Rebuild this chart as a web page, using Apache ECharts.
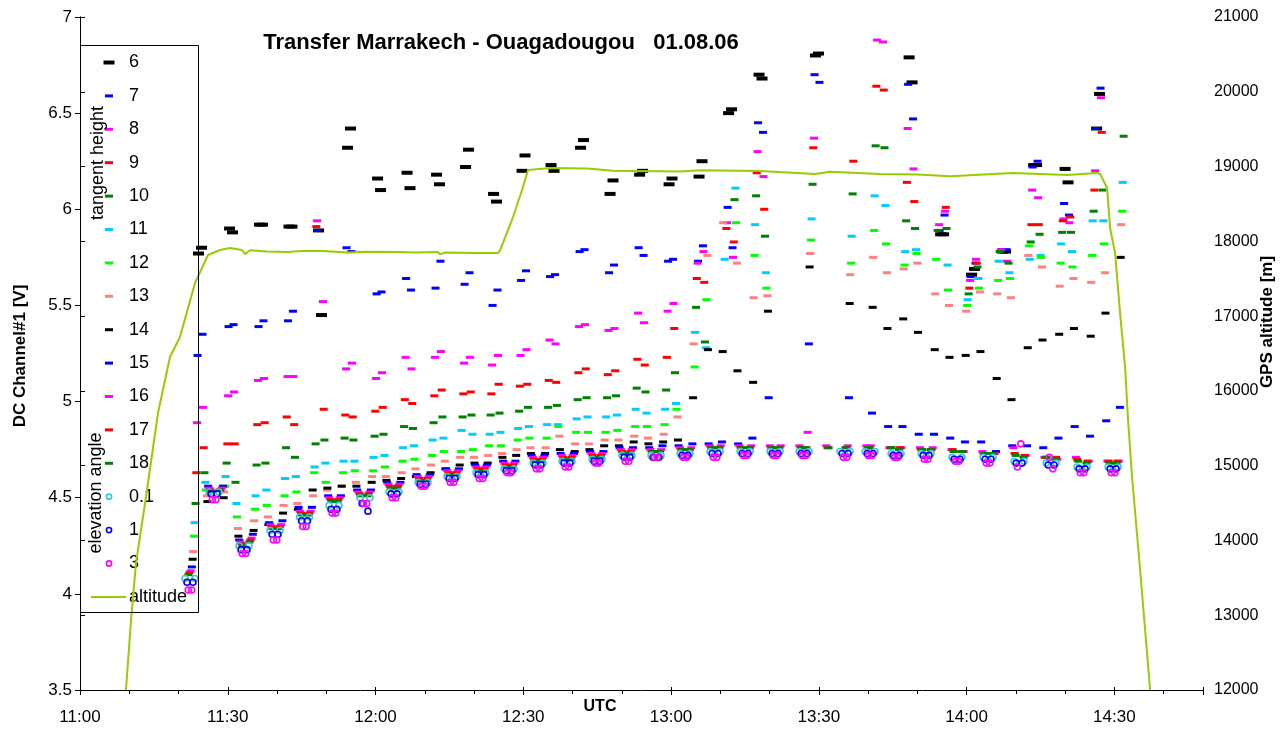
<!DOCTYPE html>
<html>
<head>
<meta charset="utf-8">
<script src="https://cdn.jsdelivr.net/npm/echarts@6.0.0/dist/echarts.min.js"></script>
<style>
  html, body { margin: 0; padding: 0; background: #ffffff; }
  #chart { width: 1282px; height: 729px; }
</style>
</head>
<body>
<div id="chart"></div>
<script>
// ---------------------------------------------------------------------------
// Limb sounding on the transfer flight Marrakech - Ouagadougou, 01.08.06
// Each scan runs tangent heights 6..18 down to the elevation-angle views and
// back up again, so every turning point carries a pair of readings per height:
// [end of previous scan, start of next scan]. A single number stands for both.
// ---------------------------------------------------------------------------

// UTC of the turning points between consecutive scans
const sweepTurns = [
  '11:24:22', '11:30:40', '11:36:45', '11:42:44', '11:48:44', '11:54:37', '12:00:43', '12:06:42',
  '12:12:41', '12:18:35', '12:24:16', '12:30:03', '12:35:56', '12:41:56', '12:47:55', '12:53:55',
  '12:59:54', '13:05:59', '13:11:59', '13:18:10', '13:24:10', '13:29:38', '13:37:46', '13:42:26',
  '13:48:38', '13:55:02', '14:01:19', '14:07:37', '14:13:55', '14:20:18', '14:26:42', '14:32:47'
];

// UTC of the scan centres (elevation-angle views)
const scanCentres = [
  '11:22:20', '11:27:13', '11:33:18', '11:39:36', '11:45:35', '11:51:34', '11:57:52', '12:03:46',
  '12:09:39', '12:15:32', '12:21:25', '12:27:07', '12:33:00', '12:38:53', '12:44:58', '12:51:04',
  '12:56:57', '13:02:50', '13:08:56', '13:15:02', '13:21:07', '13:27:01', '13:35:20', '13:40:25',
  '13:45:41', '13:51:47', '13:58:04', '14:04:22', '14:10:40', '14:17:10', '14:23:27', '14:29:45'
];

// DC channel #1 [V] per tangent height (km)
const th6 = [[5.77,5.80],[5.90,5.88],5.92,5.91,[5.89,5.45],[6.32,6.42],[6.16,6.10],[6.19,6.11],
  [6.18,6.13],[6.22,6.31],[6.08,6.04],[6.20,6.28],[6.23,6.20],[6.32,6.36],[6.08,6.15],[6.18,6.20],
  [6.13,6.16],[6.17,6.25],[6.50,6.52],[6.70,6.68],null,[6.80,6.81],null,null,
  [6.79,6.66],5.87,[5.66,5.69],5.78,6.23,[6.21,6.14],[6.42,6.60],null];
const th7 = [[5.24,5.35],[5.39,5.40],[5.39,5.42],[5.42,5.47],[5.89,null],[5.80,5.78],[5.56,5.57],[5.64,5.58],
  [5.59,5.73],[5.61,5.67],[5.50,5.58],[5.63,5.68],[5.65,5.66],[5.78,5.79],[5.67,5.71],[5.80,5.76],
  [5.73,5.74],[5.73,5.81],[6.01,5.80],[6.45,6.40],null,[6.70,6.66],null,null,
  [6.65,6.47],[5.89,5.97],[5.65,5.72],5.79,[6.22,6.25],[6.03,5.97],[6.42,6.63],null];
const th8 = [[4.89,4.97],[5.03,5.05],[5.11,5.12],5.13,[5.94,5.52],[5.17,5.20],[5.12,5.15],[5.23,5.17],
  [5.23,5.26],[5.20,5.23],[5.19,5.24],[5.24,5.27],[5.32,5.30],[5.39,5.40],[5.37,5.38],[5.46,5.41],
  [5.47,5.51],[5.72,5.78],[5.93,5.75],[6.30,6.17],null,[6.37,null],null,[6.88,6.87],
  [6.42,6.21],[5.92,5.99],[5.63,5.74],[5.79,5.73],[6.10,6.06],[5.95,5.93],[6.20,6.58],null];
const th9 = [[4.63,4.76],4.78,[4.88,4.89],[4.92,4.88],[5.91,4.96],[4.93,4.92],[4.95,4.97],[5.01,4.99],
  [5.03,5.06],[5.04,5.05],[5.04,5.09],[5.08,5.09],[5.11,5.10],[5.15,5.17],[5.14,5.16],[5.22,5.19],
  [5.23,5.38],[5.64,5.62],[5.90,5.83],[6.19,6.00],null,[6.32,null],[6.25,null],[6.64,6.62],
  [6.14,6.04],[null,6.01],[5.59,5.72],null,5.92,[5.94,5.96],[6.10,6.40],null];
const th10 = [[4.47,4.63],[4.68,4.58],[4.67,4.68],[4.76,4.71],[4.78,4.80],[4.81,4.80],[4.82,4.83],[4.87,4.86],
  [4.89,4.92],[4.92,4.93],[4.93,4.94],[4.95,4.97],[4.97,4.98],[5.01,5.02],[5.02,5.03],[5.07,5.05],
  [5.06,5.15],[5.49,5.31],[null,6.05],[6.07,5.86],null,[6.13,null],[6.08,null],[6.33,6.32],
  [5.94,5.90],[5.89,5.90],[5.56,5.70],[5.78,5.72],[5.83,5.87],5.88,[5.99,6.10],[6.38,null]];
const th11 = [[4.37,4.58],[4.61,4.47],[4.51,4.54],[4.60,4.61],[4.66,4.68],4.69,[4.71,4.72],[4.76,4.77],
  [4.80,4.81],[4.85,4.83],[4.83,4.84],[4.86,4.87],4.88,[4.91,4.92],[4.92,4.93],[4.96,4.94],
  [4.96,4.99],[5.36,5.28],[5.74,6.11],[5.92,5.67],null,[5.95,null],[5.86,null],[6.07,6.02],
  [5.78,5.79],[null,5.71],[5.53,5.64],[5.73,5.67],[5.74,5.76],[5.82,5.78],5.94,[6.14,null]];
const th12 = [[4.30,4.54],[4.56,4.40],[4.44,4.46],[4.51,4.53],[4.63,4.58],[4.63,4.64],[4.64,4.66],[4.69,4.70],
  [4.72,4.74],[4.74,4.75],4.77,[4.80,4.81],[4.81,4.87],4.84,[4.84,4.85],4.87,
  [4.88,4.96],[5.18,5.53],[null,5.93],[5.76,5.59],null,[5.84,null],[5.72,null],[5.89,5.82],
  [5.71,5.77],[5.74,5.58],[5.50,5.59],[5.63,5.64],[5.81,5.75],[5.72,5.70],[5.76,5.82],[5.99,null]];
const th13 = [[4.22,4.51],[4.53,4.34],[4.38,4.40],[4.46,4.47],[4.51,4.54],[4.56,4.58],4.61,[4.63,4.65],
  [4.67,4.69],4.71,[4.72,4.73],[4.75,4.76],[4.76,4.82],4.78,4.80,[4.82,4.81],
  [4.83,4.92],[5.30,5.76],[5.93,5.72],[5.54,5.55],null,[5.77,null],[5.66,null],[5.75,5.67],
  [5.69,5.72],[5.56,5.50],[5.47,5.57],[5.56,5.54],[5.76,5.70],[5.60,5.64],[5.62,5.67],[5.92,null]];
const th14 = [[4.18,4.48],[4.50,4.30],[4.33,4.36],[4.42,4.44],[4.54,4.55],4.56,[4.58,4.59],[4.60,4.61],
  [4.63,4.65],[4.67,4.68],[4.68,4.71],[4.72,4.73],[4.73,4.75],[4.74,4.75],4.77,[4.79,4.78],
  [4.79,4.80],[5.02,5.27],[5.26,5.16],[5.10,5.47],null,[5.70,null],[5.51,null],[5.49,5.38],
  [5.43,5.36],[5.27,5.23],[5.24,5.26],[5.12,5.01],[5.28,5.32],[5.35,5.38],[5.34,5.46],[5.75,null]];
const th15 = [[4.14,4.56],[4.56,4.28],[4.31,4.37],[4.38,4.45],[4.45,4.51],[4.51,4.54],[4.54,4.58],[4.58,4.62],
  [4.62,4.65],[4.65,4.67],[4.67,4.69],[4.69,4.72],[4.72,4.73],[4.73,4.74],[4.74,4.76],4.76,
  4.77,4.78,[4.79,4.78],[4.81,5.02],null,[5.30,null],[5.02,null],[4.94,4.87],
  [4.87,4.83],[4.83,4.81],4.79,[4.74,4.77],[4.77,4.76],[4.81,4.87],[4.82,4.90],[4.97,null]];
const th16 = [[4.12,4.55],[4.55,4.27],[4.29,4.36],[4.36,4.43],[4.43,4.50],[4.50,4.53],[4.53,4.57],[4.57,4.61],
  [4.61,4.64],[4.64,4.66],[4.66,4.68],[4.68,4.71],[4.71,4.72],[4.72,4.73],[4.73,4.75],4.75,
  [4.75,4.76],[4.76,4.77],4.77,4.77,4.77,[4.84,4.77],4.77,[4.77,4.76],
  4.76,[4.76,4.75],4.74,[4.73,4.76],[4.72,4.71],[4.70,4.71],4.69,[4.69,null]];
const th17 = [[4.11,4.54],[4.54,4.26],[4.28,4.35],[4.35,4.42],[4.42,4.49],[4.49,4.52],[4.52,4.56],[4.56,4.60],
  [4.60,4.63],[4.63,4.65],[4.65,4.67],[4.67,4.70],[4.70,4.71],[4.71,4.72],[4.72,4.74],4.74,
  [4.74,4.75],[4.75,4.76],4.76,4.76,4.76,4.76,4.76,4.76,
  [4.76,4.75],4.75,[4.74,4.73],4.73,[4.72,4.71],[4.71,4.70],4.69,[4.69,null]];
const th18 = [[4.10,4.53],[4.54,4.25],[4.27,4.34],[4.34,4.41],[4.41,4.48],[4.48,4.51],[4.51,4.55],[4.55,4.59],
  [4.59,4.62],[4.62,4.64],[4.64,4.66],[4.66,4.69],[4.69,4.70],[4.70,4.71],[4.71,4.73],[4.73,4.74],
  [4.74,4.75],[4.75,4.76],4.76,4.76,4.76,4.76,4.76,4.76,
  4.75,[4.75,4.74],[4.74,4.73],[4.73,4.72],4.71,[4.70,4.69],4.68,[4.68,null]];

// DC channel #1 [V] per elevation angle (deg), one entry per scan centre
const ang01 = [4.08,4.53,4.25,4.33,4.40,4.46,4.50,4.53,4.58,4.61,4.63,4.65,4.68,4.69,4.70,4.72,
  4.72,4.73,4.74,4.74,4.74,4.74,4.74,4.74,4.73,4.73,4.71,4.71,4.69,4.68,4.66,4.66];
const ang1 = [4.06,4.52,4.23,4.31,4.38,4.44,[4.47,4.43],4.52,4.57,4.60,4.62,4.64,4.67,4.68,4.69,4.71,
  4.71,4.72,4.73,4.73,4.73,4.73,4.73,4.73,4.72,4.72,4.70,4.70,4.68,4.67,4.65,4.65];
const ang3 = [4.02,4.49,4.21,4.28,4.35,4.42,4.47,4.50,4.56,4.58,4.60,4.63,4.65,4.66,4.68,4.69,
  4.71,4.71,4.71,4.72,4.72,4.72,4.71,4.72,4.71,4.70,4.69,4.68,[4.66,4.78],[4.71,4.65],4.63,4.63];

// GPS altitude [m]
const altTimes = ['11:09:20','11:10:22','11:11:22','11:13:24','11:15:50','11:18:16','11:20:18','11:23:21',
  '11:25:59','11:28:26','11:30:28','11:32:53','11:33:30','11:34:31','11:38:00','11:42:02','11:45:00',
  '11:49:20','11:54:13','11:58:00','12:04:58','12:08:00','12:12:41','12:13:06','12:14:07','12:20:00',
  '12:24:52','12:25:17','12:27:55','12:29:45','12:30:58','12:35:26','12:42:56','12:48:13','13:01:50',
  '13:05:53','13:18:04','13:29:14','13:32:17','13:42:26','13:50:00','13:56:39','14:09:26','14:20:25',
  '14:26:30','14:27:07','14:28:32','14:29:08','14:30:09','14:31:10','14:32:11','14:32:47','14:33:36',
  '14:35:14','14:37:16'];
const altValues = [12000,12936,13698,14581,15704,16453,16720,17443,
  17817,17884,17911,17884,17830,17880,17865,17857,17870,
  17870,17850,17862,17857,17850,17857,17825,17850,17845,
  17844,17880,18325,18686,18954,18980,18975,18945,18935,
  18950,18940,18900,18930,18900,18895,18870,18914,18887,
  18914,18900,18713,18178,17844,17041,16319,15611,14848,
  13605,12000];

// Tick labels
const leftTicks = [3.5, 4, 4.5, 5, 5.5, 6, 6.5, 7];
const rightTicks = [12000, 13000, 14000, 15000, 16000, 17000, 18000, 19000, 20000, 21000];

// ---------------------------------------------------------------------------
// Series definitions and styling
// ---------------------------------------------------------------------------
const heightSets = [
  { name: '6', values: th6 }, { name: '7', values: th7 }, { name: '8', values: th8 },
  { name: '9', values: th9 }, { name: '10', values: th10 }, { name: '11', values: th11 },
  { name: '12', values: th12 }, { name: '13', values: th13 }, { name: '14', values: th14 },
  { name: '15', values: th15 }, { name: '16', values: th16 }, { name: '17', values: th17 },
  { name: '18', values: th18 }
];
const angleSets = [
  { name: '0.1', values: ang01 }, { name: '1', values: ang1 }, { name: '3', values: ang3 }
];

// colour, marker size and time offset (minutes) from the turning point
const heightStyle = {
  '6':  { color: '#000000', size: [11, 4], shift: 0.30 },
  '7':  { color: '#0000ff', size: [8, 3],  shift: 0.50 },
  '8':  { color: '#ff00ff', size: [8, 3],  shift: 0.60 },
  '9':  { color: '#ff0000', size: [8, 3],  shift: 0.75 },
  '10': { color: '#008000', size: [8, 3],  shift: 0.90 },
  '11': { color: '#00ccff', size: [8, 3],  shift: 1.10 },
  '12': { color: '#00ff00', size: [8, 3],  shift: 1.20 },
  '13': { color: '#ff8080', size: [8, 3],  shift: 1.40 },
  '14': { color: '#000000', size: [8, 3],  shift: 1.50 },
  '15': { color: '#0000ff', size: [8, 3],  shift: 1.65 },
  '16': { color: '#ff00ff', size: [8, 3],  shift: 1.90 },
  '17': { color: '#ff0000', size: [8, 3],  shift: 2.15 },
  '18': { color: '#008000', size: [8, 3],  shift: 2.35 }
};
const angleStyle = {
  '0.1': { color: '#33cccc', shift: 1.0 },
  '1':   { color: '#0000ff', shift: 0.6 },
  '3':   { color: '#ff00ff', shift: 0.35 }
};
const altitudeColor = '#99cc00';
const FONT = 'Arial, "Liberation Sans", sans-serif';

// minutes after 11:00 UTC
function toMin(s) {
  const p = s.split(':').map(Number);
  return (p[0] - 11) * 60 + p[1] + (p[2] || 0) / 60;
}

// two readings around each reference time: [before, after]
function pairPoints(times, values, shift) {
  const pts = [];
  values.forEach((v, i) => {
    if (v === null) return;
    const pair = Array.isArray(v) ? v : [v, v];
    const t = toMin(times[i]);
    if (pair[0] !== null) pts.push([t - shift, pair[0]]);
    if (pair[1] !== null) pts.push([t + shift, pair[1]]);
  });
  return pts;
}

function clockLabel(v) {
  if (Math.abs(v % 30) > 1e-6) return '';
  const h = 11 + Math.floor(v / 60);
  const m = Math.round(v % 60);
  return h + ':' + String(m).padStart(2, '0');
}

const series = [];
heightSets.forEach(h => {
  const st = heightStyle[h.name];
  series.push({
    type: 'scatter', name: h.name, xAxisIndex: 0, yAxisIndex: 0,
    symbol: 'rect', symbolSize: st.size,
    itemStyle: { color: st.color, opacity: 1 },
    data: pairPoints(sweepTurns, h.values, st.shift),
    silent: true, animation: false
  });
});
angleSets.forEach(a => {
  const st = angleStyle[a.name];
  series.push({
    type: 'scatter', name: a.name, xAxisIndex: 0, yAxisIndex: 0,
    symbol: 'circle', symbolSize: 6,
    itemStyle: { color: 'rgba(255,255,255,0)', borderColor: st.color, borderWidth: 1.6, opacity: 1 },
    data: pairPoints(scanCentres, a.values, st.shift),
    silent: true, animation: false
  });
});
series.push({
  type: 'line', name: 'altitude', xAxisIndex: 0, yAxisIndex: 1,
  data: altTimes.map((t, i) => [toMin(t), altValues[i]]),
  showSymbol: false, symbol: 'none',
  lineStyle: { color: altitudeColor, width: 2 },
  clip: true, silent: true, animation: false, z: 3
});

// ---------------------------------------------------------------------------
// Legend (drawn as graphic elements over the left of the plot)
// ---------------------------------------------------------------------------
const legendItems = [];
const legX = 109, textX = 129, legTop = 62.5, legStep = 33.4;
const legendNames = heightSets.map(h => h.name).concat(angleSets.map(a => a.name), ['altitude']);
legendNames.forEach((name, k) => {
  const y = legTop + k * legStep;
  if (heightStyle[name] && k < heightSets.length) {
    const st = heightStyle[name];
    legendItems.push({
      type: 'rect', x: legX, y: y,
      shape: { x: -st.size[0] / 2, y: -st.size[1] / 2, width: st.size[0], height: st.size[1] },
      style: { fill: st.color }
    });
  } else if (name === 'altitude') {
    legendItems.push({
      type: 'line', shape: { x1: 91, y1: y, x2: 126, y2: y },
      style: { stroke: altitudeColor, lineWidth: 2 }
    });
  } else {
    legendItems.push({
      type: 'circle', x: legX, y: y, shape: { cx: 0, cy: 0, r: 2.6 },
      style: { fill: 'none', stroke: angleStyle[name].color, lineWidth: 1.6 }
    });
  }
  legendItems.push({
    type: 'text', x: textX, y: y,
    style: { text: name, font: '18px ' + FONT, fill: '#000', verticalAlign: 'middle', align: 'left' }
  });
});

const graphic = [
  { type: 'rect', shape: { x: 80.5, y: 45.5, width: 118, height: 567 },
    style: { fill: 'none', stroke: '#000', lineWidth: 1 }, z: 10 },
  { type: 'text', x: 98, y: 163, rotation: Math.PI / 2,
    style: { text: 'tangent height', font: '18px ' + FONT, fill: '#000', align: 'center', verticalAlign: 'middle' }, z: 10 },
  { type: 'text', x: 96, y: 493, rotation: Math.PI / 2,
    style: { text: 'elevation angle', font: '18px ' + FONT, fill: '#000', align: 'center', verticalAlign: 'middle' }, z: 10 },
  { type: 'group', children: legendItems, z: 10 },
  { type: 'text', x: 501, y: 43,
    style: { text: 'Transfer Marrakech - Ouagadougou   01.08.06', font: 'bold 22px ' + FONT, fill: '#000', align: 'center', verticalAlign: 'middle' }, z: 10 },
  { type: 'text', x: 20, y: 356, rotation: Math.PI / 2,
    style: { text: 'DC Channel#1 [V]', font: 'bold 17px ' + FONT, fill: '#000', align: 'center', verticalAlign: 'middle' }, z: 10 },
  { type: 'text', x: 1267, y: 322, rotation: Math.PI / 2,
    style: { text: 'GPS altitude [m]', font: 'bold 17px ' + FONT, fill: '#000', align: 'center', verticalAlign: 'middle' }, z: 10 },
  { type: 'text', x: 600, y: 707,
    style: { text: 'UTC', font: 'bold 16px ' + FONT, fill: '#000', align: 'center', verticalAlign: 'middle' }, z: 10 }
];

const axisLineStyle = { color: '#000', width: 1 };
const labelFont = { color: '#000', fontSize: 17, fontFamily: FONT };
const option = {
  backgroundColor: '#ffffff',
  animation: false,
  grid: { left: 80, right: 79, top: 17, bottom: 39, containLabel: false },
  xAxis: [
    {
      type: 'value', min: 0, max: 228, interval: 30,
      axisLine: { show: true, onZero: false, lineStyle: axisLineStyle },
      axisTick: { show: true, length: 5, lineStyle: axisLineStyle },
      minorTick: { show: true, splitNumber: 3, length: 4, lineStyle: axisLineStyle },
      axisLabel: Object.assign({ formatter: clockLabel, margin: 19 }, labelFont),
      splitLine: { show: false }
    },
    {
      type: 'value', min: 0, max: 228, interval: 30, position: 'bottom',
      axisLine: { show: false },
      axisTick: { show: true, inside: true, length: 3, lineStyle: axisLineStyle },
      axisLabel: { show: false },
      splitLine: { show: false }
    }
  ],
  yAxis: [
    {
      type: 'value', min: leftTicks[0], max: leftTicks[leftTicks.length - 1], interval: 0.5,
      axisLine: { show: true, lineStyle: axisLineStyle },
      axisTick: { show: true, length: 5, lineStyle: axisLineStyle },
      axisLabel: Object.assign({ margin: 8, formatter: v => String(v) }, labelFont),
      splitLine: { show: false }
    },
    {
      type: 'value', position: 'right', min: rightTicks[0], max: rightTicks[rightTicks.length - 1], interval: 1000,
      axisLine: { show: true, lineStyle: axisLineStyle },
      axisTick: { show: true, length: 5, lineStyle: axisLineStyle },
      axisLabel: { color: '#000', fontSize: 16, fontFamily: FONT, margin: 11, formatter: v => String(v) },
      splitLine: { show: false }
    }
  ],
  series: series,
  graphic: graphic
};

const chart = echarts.init(document.getElementById('chart'), null, { renderer: 'canvas' });
chart.setOption(option);
</script>
</body>
</html>
